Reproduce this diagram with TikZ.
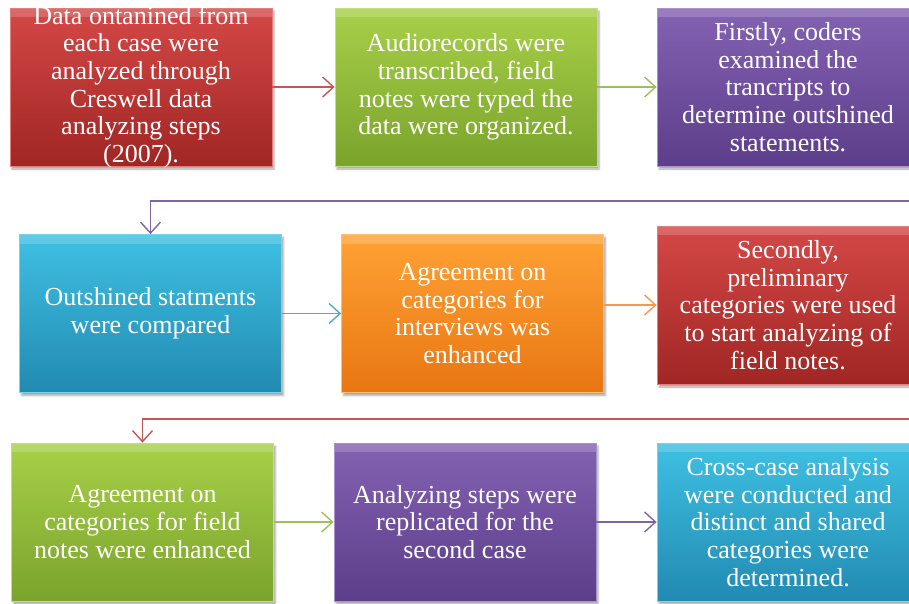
\documentclass[tikz,border=0pt]{standalone}
\usepackage{fontspec}
\setmainfont{Liberation Serif}
\usetikzlibrary{positioning, arrows.meta, shadows.blur}

\definecolor{redtop}{RGB}{212,72,70}
\definecolor{redbot}{RGB}{160,38,36}
\definecolor{greentop}{RGB}{168,208,72}
\definecolor{greenbot}{RGB}{122,163,44}
\definecolor{purpletop}{RGB}{132,98,178}
\definecolor{purplebot}{RGB}{92,62,138}
\definecolor{cyantop}{RGB}{62,192,226}
\definecolor{cyanbot}{RGB}{34,138,178}
\definecolor{orangetop}{RGB}{255,162,52}
\definecolor{orangebot}{RGB}{232,118,18}
\definecolor{redline}{RGB}{196,86,84}
\definecolor{greenline}{RGB}{155,192,88}
\definecolor{cyanline}{RGB}{78,172,200}
\definecolor{orangeline}{RGB}{247,152,74}
\definecolor{purpleline}{RGB}{128,100,164}

\begin{document}
\begin{tikzpicture}[
    x=1pt, y=-1pt,
    font=\fontsize{26}{27.6}\selectfont,
    stepbox/.style={
        rectangle,
        minimum width=262pt,
        minimum height=158pt,
        inner sep=0pt,
        align=center,
        text=white,
        line width=0.8pt,
        blur shadow={shadow xshift=2pt, shadow yshift=-3pt, shadow opacity=35},
        path picture={
            \fill[white, opacity=0.18] (path picture bounding box.north west) rectangle ([yshift=-9pt]path picture bounding box.north east);
        }
    },
    redbox/.style={stepbox, top color=redtop, bottom color=redbot, draw=redtop!70!white},
    greenbox/.style={stepbox, top color=greentop, bottom color=greenbot, draw=greentop!70!white},
    purplebox/.style={stepbox, top color=purpletop, bottom color=purplebot, draw=purpletop!70!white},
    cyanbox/.style={stepbox, top color=cyantop, bottom color=cyanbot, draw=cyantop!70!white},
    orangebox/.style={stepbox, top color=orangetop, bottom color=orangebot, draw=orangetop!70!white},
    link/.style={-{Straight Barb[length=11pt, width=20pt]}, line width=1.4pt}
]

\useasboundingbox (0,0) rectangle (909,603);

% first row
\node[redbox, inner ysep=-3pt] (step1) at (141,87) {Data ontanined from\\each case were\\analyzed through\\Creswell data\\analyzing steps\\(2007).};
\node[greenbox] (step2) at (466,87) {Audiorecords were\\transcribed, field\\notes were typed the\\data were organized.};
\node[purplebox] (step3) at (788,87) {Firstly, coders\\examined the\\trancripts to\\determine outshined\\statements.};

% second row
\node[cyanbox] (step4) at (150.5,313.5) {Outshined statments\\were compared};
\node[orangebox] (step5) at (472.5,313.5) {Agreement on\\categories for\\interviews was\\enhanced};
\node[redbox] (step6) at (788,305) {Secondly,\\preliminary\\categories were used\\to start analyzing of\\field notes.};

% third row
\node[greenbox] (step7) at (142.5,522) {Agreement on\\categories for field\\notes were enhanced};
\node[purplebox] (step8) at (465,522) {Analyzing steps were\\replicated for the\\second case};
\node[cyanbox] (step9) at (788,522) {Cross-case analysis\\were conducted and\\distinct and shared\\categories were\\determined.};

% turns between rows
\coordinate (turn1) at (915,201);
\coordinate (turn2) at (915,419);

% arrows
\draw[link, draw=redline] (step1) -- (step2);
\draw[link, draw=greenline] (step2) -- (step3);
\draw[link, draw=purpleline] (turn1) -| (step4.north);
\draw[link, draw=cyanline] (step4) -- (step5);
\draw[link, draw=orangeline] (step5.east |- step6) -- (step6);
\draw[link, draw=redline] (turn2) -| (step7.north);
\draw[link, draw=greenline] (step7) -- (step8);
\draw[link, draw=purpleline] (step8) -- (step9);

\end{tikzpicture}
\end{document}
